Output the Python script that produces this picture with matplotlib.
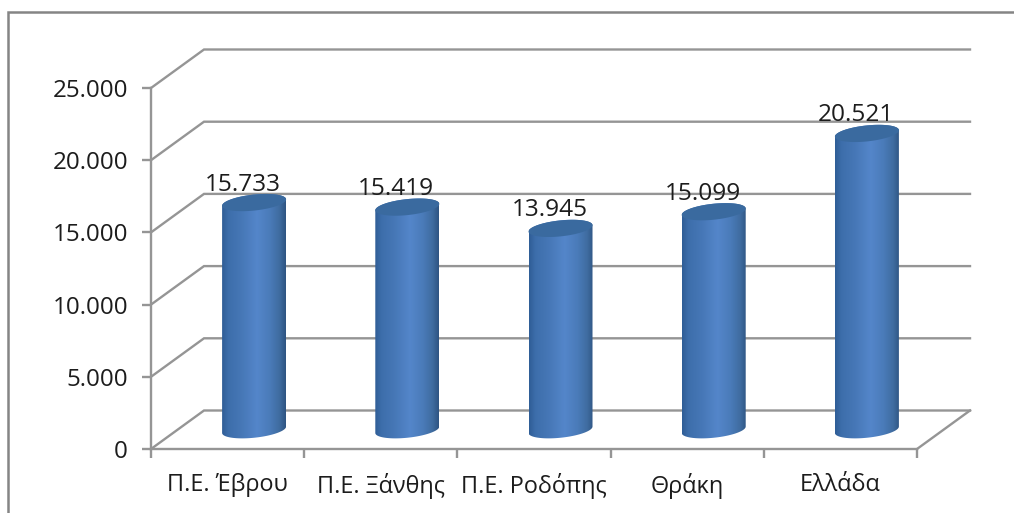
import numpy as np
import matplotlib
matplotlib.use("Agg")
import matplotlib.pyplot as plt
from matplotlib.lines import Line2D
from matplotlib.patches import PathPatch, Polygon
from matplotlib.path import Path
from matplotlib.colors import LinearSegmentedColormap
from matplotlib.ticker import FuncFormatter

categories = ["Π.Ε. Έβρου", "Π.Ε. Ξάνθης", "Π.Ε. Ροδόπης", "Θράκη", "Ελλάδα"]
values = [15733, 15419, 13945, 15099, 20521]
y_ticks = [0, 5000, 10000, 15000, 20000, 25000]

W, H = 1014, 513
L, R, T, B = 151, 917, 88, 449
plt.rcParams["font.family"] = ["Open Sans", "DejaVu Sans"]
GREY = "#959595"
TXT = "#1c1c1c"

fig = plt.figure(figsize=(W / 100, H / 100), dpi=100, facecolor="white")
ax = fig.add_axes([L / W, 1 - B / H, (R - L) / W, (B - T) / H])
ax.set_xlim(0, len(categories))
ax.set_ylim(0, 25000)
ax.set_facecolor("none")

sx = (R - L) / len(categories)   # px per category
sy = (B - T) / 25000             # px per unit
dx, dy = 53 / sx, 38.5 / sy      # depth of the 3-D box in data units

# frame
fig.add_artist(Line2D([7.5 / W, 7.5 / W, 1], [0, 1 - 11.5 / H, 1 - 11.5 / H],
                      color="#858585", lw=1.8, solid_joinstyle="miter"))

# back wall / side wall gridlines
for v in y_ticks:
    ax.plot([0, dx, len(categories) + dx], [v, v + dy, v + dy], color=GREY, lw=1.7,
            clip_on=False, zorder=1, solid_joinstyle="miter")
ax.plot([len(categories), len(categories) + dx], [0, dy], color=GREY, lw=1.7,
        clip_on=False, zorder=1)

# axes
for s in ("top", "right"):
    ax.spines[s].set_visible(False)
for s in ("left", "bottom"):
    ax.spines[s].set_color(GREY)
    ax.spines[s].set_linewidth(1.7)
ax.set_yticks(y_ticks)
ax.yaxis.set_major_formatter(FuncFormatter(lambda v, _: f"{int(v):,}".replace(",", ".")))
ax.set_xticks(np.arange(len(categories) + 1))
ax.set_xticklabels([])
ax.set_xticks(np.arange(len(categories)) + 0.5, minor=True)
ax.set_xticklabels(categories, minor=True)
ax.tick_params(axis="both", which="major", length=6.5, width=1.7, color=GREY)
ax.tick_params(axis="x", which="minor", length=0, pad=17, labelsize=16.9, labelcolor=TXT)
ax.tick_params(axis="y", which="major", pad=10, labelsize=17.4, labelcolor=TXT)

# cylinders
cmap = LinearSegmentedColormap.from_list("cyl", [
    (0.0, "#2f5d96"), (0.1, "#3d6eab"), (0.3, "#4677b6"), (0.55, "#5486ca"),
    (0.75, "#4a7bb9"), (0.9, "#3f6ca0"), (1.0, "#2e5482")])
grad = np.linspace(0, 1, 256).reshape(1, -1)
rx, ry, tilt = 32 / sx, 8 / sy, 0.1 * (1 / sy) / (1 / sx)
th = np.linspace(0, 2 * np.pi, 121)


def ell(cx, cy, theta):
    x = np.cos(theta) * rx
    return cx + x, cy + ry * np.sin(theta) + tilt * x


for i, v in enumerate(values):
    cx, cy = i + 0.5 + dx / 2, dy / 2
    bx, by = ell(cx, cy, np.linspace(np.pi, 2 * np.pi, 61))
    tx, ty = ell(cx, cy + v, np.linspace(0, np.pi, 61))
    poly = np.column_stack([np.r_[bx, tx], np.r_[by, ty]])
    im = ax.imshow(grad, cmap=cmap, aspect="auto", zorder=3, interpolation="bilinear",
                   extent=[cx - rx, cx + rx, by.min() - 500, ty.max() + 500])
    im.set_clip_path(PathPatch(Path(poly, closed=False), transform=ax.transData))
    ex, ey = ell(cx, cy + v, th)
    ax.add_patch(Polygon(np.column_stack([ex, ey]), closed=True, fc="#3a6a9f", ec="none",
                         zorder=4, clip_on=False))
    ax.annotate(f"{v:,}".replace(",", "."), xy=(cx, cy + v), xytext=(-11, 18),
                textcoords="offset pixels", ha="center", va="center", fontsize=17.6,
                color=TXT, zorder=5, annotation_clip=False)

ax.set_xlim(0, len(categories))
ax.set_ylim(0, 25000)
fig.savefig("out.png", dpi=100)
